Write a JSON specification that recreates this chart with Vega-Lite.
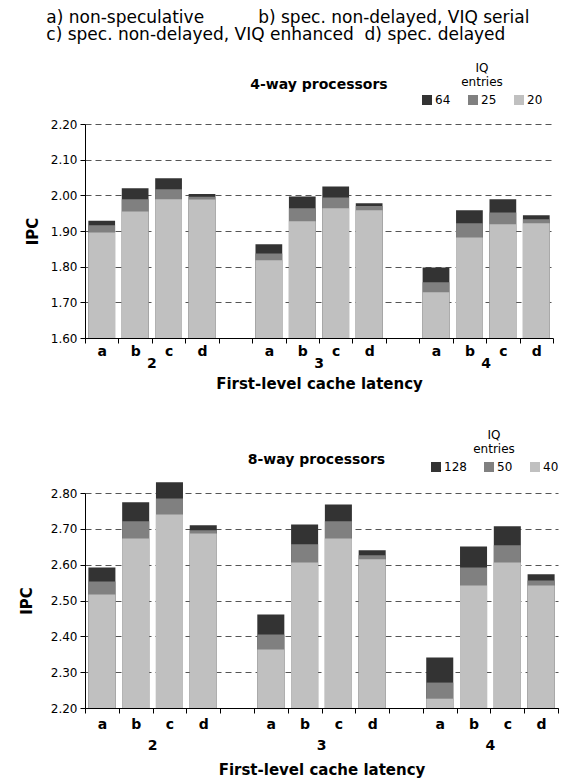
{
  "$schema": "https://vega.github.io/schema/vega-lite/v6.json",
  "padding": {"left": 19, "top": 9, "right": 5, "bottom": 2},
  "title": {
    "text": ["\u200b\u00a0\u00a0\u00a0\u00a0\u00a0a) non-speculative\u00a0\u00a0\u00a0\u00a0\u00a0\u00a0\u00a0\u00a0\u00a0\u00a0b) spec. non-delayed, VIQ serial", "\u200b\u00a0\u00a0\u00a0\u00a0\u00a0c) spec. non-delayed, VIQ enhanced\u00a0\u00a0d) spec. delayed"],
    "anchor": "start", "fontSize": 17, "fontWeight": "normal", "color": "black", "lineHeight": 17, "offset": 19
  },
  "datasets": {
    "p4": [
      {"lat": "2", "slot": "2a", "iq": "64", "ipc": 1.929}, {"lat": "2", "slot": "2b", "iq": "64", "ipc": 2.020}, {"lat": "2", "slot": "2c", "iq": "64", "ipc": 2.048}, {"lat": "2", "slot": "2d", "iq": "64", "ipc": 2.004},
      {"lat": "3", "slot": "3a", "iq": "64", "ipc": 1.863}, {"lat": "3", "slot": "3b", "iq": "64", "ipc": 1.997}, {"lat": "3", "slot": "3c", "iq": "64", "ipc": 2.025}, {"lat": "3", "slot": "3d", "iq": "64", "ipc": 1.978},
      {"lat": "4", "slot": "4a", "iq": "64", "ipc": 1.798}, {"lat": "4", "slot": "4b", "iq": "64", "ipc": 1.958}, {"lat": "4", "slot": "4c", "iq": "64", "ipc": 1.989}, {"lat": "4", "slot": "4d", "iq": "64", "ipc": 1.944},
      {"lat": "2", "slot": "2a", "iq": "25", "ipc": 1.916}, {"lat": "2", "slot": "2b", "iq": "25", "ipc": 1.989}, {"lat": "2", "slot": "2c", "iq": "25", "ipc": 2.017}, {"lat": "2", "slot": "2d", "iq": "25", "ipc": 1.996},
      {"lat": "3", "slot": "3a", "iq": "25", "ipc": 1.837}, {"lat": "3", "slot": "3b", "iq": "25", "ipc": 1.964}, {"lat": "3", "slot": "3c", "iq": "25", "ipc": 1.994}, {"lat": "3", "slot": "3d", "iq": "25", "ipc": 1.970},
      {"lat": "4", "slot": "4a", "iq": "25", "ipc": 1.756}, {"lat": "4", "slot": "4b", "iq": "25", "ipc": 1.922}, {"lat": "4", "slot": "4c", "iq": "25", "ipc": 1.952}, {"lat": "4", "slot": "4d", "iq": "25", "ipc": 1.933},
      {"lat": "2", "slot": "2a", "iq": "20", "ipc": 1.896}, {"lat": "2", "slot": "2b", "iq": "20", "ipc": 1.955}, {"lat": "2", "slot": "2c", "iq": "20", "ipc": 1.989}, {"lat": "2", "slot": "2d", "iq": "20", "ipc": 1.988},
      {"lat": "3", "slot": "3a", "iq": "20", "ipc": 1.818}, {"lat": "3", "slot": "3b", "iq": "20", "ipc": 1.927}, {"lat": "3", "slot": "3c", "iq": "20", "ipc": 1.964}, {"lat": "3", "slot": "3d", "iq": "20", "ipc": 1.958},
      {"lat": "4", "slot": "4a", "iq": "20", "ipc": 1.728}, {"lat": "4", "slot": "4b", "iq": "20", "ipc": 1.882}, {"lat": "4", "slot": "4c", "iq": "20", "ipc": 1.919}, {"lat": "4", "slot": "4d", "iq": "20", "ipc": 1.922}
    ],
    "p8": [
      {"lat": "2", "slot": "2a", "iq": "128", "ipc": 2.592}, {"lat": "2", "slot": "2b", "iq": "128", "ipc": 2.774}, {"lat": "2", "slot": "2c", "iq": "128", "ipc": 2.830}, {"lat": "2", "slot": "2d", "iq": "128", "ipc": 2.710},
      {"lat": "3", "slot": "3a", "iq": "128", "ipc": 2.461}, {"lat": "3", "slot": "3b", "iq": "128", "ipc": 2.712}, {"lat": "3", "slot": "3c", "iq": "128", "ipc": 2.768}, {"lat": "3", "slot": "3d", "iq": "128", "ipc": 2.640},
      {"lat": "4", "slot": "4a", "iq": "128", "ipc": 2.341}, {"lat": "4", "slot": "4b", "iq": "128", "ipc": 2.651}, {"lat": "4", "slot": "4c", "iq": "128", "ipc": 2.707}, {"lat": "4", "slot": "4d", "iq": "128", "ipc": 2.573},
      {"lat": "2", "slot": "2a", "iq": "50", "ipc": 2.553}, {"lat": "2", "slot": "2b", "iq": "50", "ipc": 2.721}, {"lat": "2", "slot": "2c", "iq": "50", "ipc": 2.785}, {"lat": "2", "slot": "2d", "iq": "50", "ipc": 2.696},
      {"lat": "3", "slot": "3a", "iq": "50", "ipc": 2.405}, {"lat": "3", "slot": "3b", "iq": "50", "ipc": 2.657}, {"lat": "3", "slot": "3c", "iq": "50", "ipc": 2.721}, {"lat": "3", "slot": "3d", "iq": "50", "ipc": 2.626},
      {"lat": "4", "slot": "4a", "iq": "50", "ipc": 2.271}, {"lat": "4", "slot": "4b", "iq": "50", "ipc": 2.592}, {"lat": "4", "slot": "4c", "iq": "50", "ipc": 2.654}, {"lat": "4", "slot": "4d", "iq": "50", "ipc": 2.556},
      {"lat": "2", "slot": "2a", "iq": "40", "ipc": 2.517}, {"lat": "2", "slot": "2b", "iq": "40", "ipc": 2.673}, {"lat": "2", "slot": "2c", "iq": "40", "ipc": 2.740}, {"lat": "2", "slot": "2d", "iq": "40", "ipc": 2.687},
      {"lat": "3", "slot": "3a", "iq": "40", "ipc": 2.363}, {"lat": "3", "slot": "3b", "iq": "40", "ipc": 2.606}, {"lat": "3", "slot": "3c", "iq": "40", "ipc": 2.673}, {"lat": "3", "slot": "3d", "iq": "40", "ipc": 2.615},
      {"lat": "4", "slot": "4a", "iq": "40", "ipc": 2.226}, {"lat": "4", "slot": "4b", "iq": "40", "ipc": 2.542}, {"lat": "4", "slot": "4c", "iq": "40", "ipc": 2.606}, {"lat": "4", "slot": "4d", "iq": "40", "ipc": 2.542}
    ]
  },
  "columns": 1,
  "spacing": 39,
  "resolve": {"scale": {"color": "independent"}, "legend": {"color": "independent"}},
  "concat": [
    {
      "width": 468, "height": 214,
      "data": {"name": "p4"},
      "title": {"text": "4-way processors", "fontSize": 14, "fontWeight": "bold", "color": "black", "anchor": "middle", "frame": "group", "offset": -29},
      "layer": [
        {
          "mark": {"type": "bar", "width": {"band": 0.8}},
          "encoding": {
            "x": {"field": "slot", "type": "nominal",
              "scale": {"domain": ["2a","2b","2c","2d","g1","3a","3b","3c","3d","g2","4a","4b","4c","4d"], "paddingInner": 0, "paddingOuter": 0},
              "axis": {"orient": "bottom", "title": null, "labelExpr": "isString(datum.label) && length(datum.label) > 1 && datum.label[0] != 'g' ? datum.label[1] : ''", "labelAngle": 0, "labelFontWeight": "bold", "labelFontSize": 14, "labelColor": "black", "tickBand": "extent", "tickSize": 5, "tickColor": "black", "domainColor": "black", "labelPadding": 1}},
            "y": {"field": "ipc", "type": "quantitative", "stack": null,
              "scale": {"domain": [1.6, 2.2], "zero": false, "nice": false},
              "axis": {"values": [1.6, 1.7, 1.8, 1.9, 2.0, 2.1, 2.2], "format": ".2f", "grid": true, "gridDash": [6, 4], "gridColor": "#555555", "domainColor": "black", "tickColor": "black", "tickSize": 5, "labelFontSize": 12, "labelColor": "black", "labelPadding": 3, "title": "IPC", "titleFontSize": 15, "titleFontWeight": "bold", "titleColor": "black", "titlePadding": 10}},
            "color": {"field": "iq", "type": "nominal",
              "scale": {"domain": ["64", "25", "20"], "range": ["#333333", "#808080", "#c0c0c0"]},
              "legend": {"orient": "none", "legendX": 336, "legendY": -61, "direction": "horizontal", "title": ["IQ", "entries"], "titleAnchor": "middle", "titleAlign": "center", "titleOrient": "top", "titleFontWeight": "normal", "titleFontSize": 12, "titleColor": "black", "titlePadding": 5, "labelFontSize": 12, "labelColor": "black", "labelOffset": 2, "symbolType": "square", "symbolSize": 100, "symbolStrokeWidth": 0, "columnPadding": 16}}
          }
        },
        {
          "mark": {"type": "rule", "opacity": 0},
          "encoding": {
            "x": {"field": "lat", "type": "nominal",
              "scale": {"type": "band", "domain": ["2", "3", "4"], "paddingInner": 0.2, "paddingOuter": 0},
              "axis": {"orient": "bottom", "title": "First-level cache latency", "titleFontSize": 15, "titleFontWeight": "bold", "titleColor": "black", "labelAngle": 0, "labelFontWeight": "bold", "labelFontSize": 14, "labelColor": "black", "domain": false, "ticks": false, "labelPadding": 18, "titlePadding": 6}}
          }
        }
      ],
      "resolve": {"scale": {"x": "independent"}}
    },
    {
      "width": 473, "height": 215,
      "data": {"name": "p8"},
      "title": {"text": "8-way processors", "fontSize": 14, "fontWeight": "bold", "color": "black", "anchor": "middle", "frame": "group", "dx": -5, "offset": -37},
      "layer": [
        {
          "mark": {"type": "bar", "width": {"band": 0.8}},
          "encoding": {
            "x": {"field": "slot", "type": "nominal",
              "scale": {"domain": ["2a","2b","2c","2d","g1","3a","3b","3c","3d","g2","4a","4b","4c","4d"], "paddingInner": 0, "paddingOuter": 0},
              "axis": {"orient": "bottom", "title": null, "labelExpr": "isString(datum.label) && length(datum.label) > 1 && datum.label[0] != 'g' ? datum.label[1] : ''", "labelAngle": 0, "labelFontWeight": "bold", "labelFontSize": 14, "labelColor": "black", "tickBand": "extent", "tickSize": 5, "tickColor": "black", "domainColor": "black", "labelPadding": 4}},
            "y": {"field": "ipc", "type": "quantitative", "stack": null,
              "scale": {"domain": [2.2, 2.8], "zero": false, "nice": false},
              "axis": {"values": [2.2, 2.3, 2.4, 2.5, 2.6, 2.7, 2.8], "format": ".2f", "grid": true, "gridDash": [6, 4], "gridColor": "#555555", "domainColor": "black", "tickColor": "black", "tickSize": 5, "labelFontSize": 12, "labelColor": "black", "labelPadding": 3, "title": "IPC", "titleFontSize": 15, "titleFontWeight": "bold", "titleColor": "black", "titlePadding": 16}},
            "color": {"field": "iq", "type": "nominal",
              "scale": {"domain": ["128", "50", "40"], "range": ["#333333", "#808080", "#c0c0c0"]},
              "legend": {"orient": "none", "legendX": 345, "legendY": -63, "direction": "horizontal", "title": ["IQ", "entries"], "titleAnchor": "middle", "titleAlign": "center", "titleOrient": "top", "titleFontWeight": "normal", "titleFontSize": 12, "titleColor": "black", "titlePadding": 5, "labelFontSize": 12, "labelColor": "black", "labelOffset": 2, "symbolType": "square", "symbolSize": 100, "symbolStrokeWidth": 0, "columnPadding": 16}}
          }
        },
        {
          "mark": {"type": "rule", "opacity": 0},
          "encoding": {
            "x": {"field": "lat", "type": "nominal",
              "scale": {"type": "band", "domain": ["2", "3", "4"], "paddingInner": 0.2, "paddingOuter": 0},
              "axis": {"orient": "bottom", "title": "First-level cache latency", "titleFontSize": 15, "titleFontWeight": "bold", "titleColor": "black", "labelAngle": 0, "labelFontWeight": "bold", "labelFontSize": 14, "labelColor": "black", "domain": false, "ticks": false, "labelPadding": 30, "titlePadding": 10}}
          }
        }
      ],
      "resolve": {"scale": {"x": "independent"}}
    }
  ],
  "config": {"font": "DejaVu Sans", "view": {"stroke": null}}
}
